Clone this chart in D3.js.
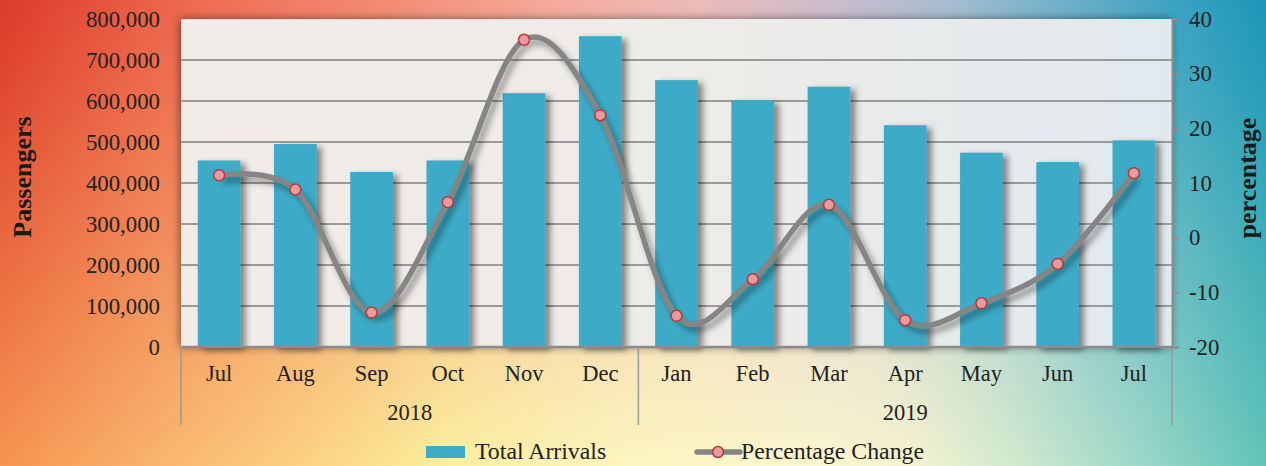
<!DOCTYPE html>
<html>
<head>
<meta charset="utf-8">
<script src="https://cdn.jsdelivr.net/npm/d3@7"></script>
<style>
  html, body { margin: 0; padding: 0; }
  svg { display: block; font-family: "Liberation Serif", "Times New Roman", serif; }
</style>
</head>
<body>
<svg id="chart" width="1266" height="466"></svg>
<script>
var months   = ["Jul", "Aug", "Sep", "Oct", "Nov", "Dec", "Jan", "Feb", "Mar", "Apr", "May", "Jun", "Jul"];
var years    = [{ label: "2018", count: 6 }, { label: "2019", count: 7 }];
var arrivals = [455000, 495000, 427000, 455000, 619000, 758000, 651000, 602000, 635000, 541000, 474000, 451000, 504000];
var pctChange = [11.4, 8.8, -13.7, 6.5, 36.2, 22.4, -14.3, -7.6, 6.0, -15.1, -12.0, -4.8, 11.8];
var leftTicks  = [0, 100000, 200000, 300000, 400000, 500000, 600000, 700000, 800000];
var rightTicks = [-20, -10, 0, 10, 20, 30, 40];

var svg = d3.select("#chart");
var W = 1266, H = 466;
var plot = { left: 181, right: 1172, top: 19, bottom: 347 };

var defs = svg.append("defs");

// background: top row colours fading into bottom row colours
var topStops = [[0, "#dc3a2a"], [0.15, "#ee6a50"], [0.3, "#f38a72"], [0.45, "#f4aca0"], [0.55, "#ecbab8"],
                [0.65, "#cdbccb"], [0.75, "#a6bccf"], [0.85, "#68aec8"], [0.93, "#3aa2c2"], [1, "#1c96b8"]];
var botStops = [[0, "#f79452"], [0.12, "#f9b46c"], [0.25, "#fcd584"], [0.35, "#fbef9e"], [0.5, "#fcf6c0"],
                [0.65, "#fbf6d0"], [0.72, "#f4f3d0"], [0.8, "#d2ead0"], [0.9, "#9ed8c8"], [1, "#62c4b8"]];

function hGradient(id, stops){
	var g = defs.append("linearGradient").attr("id", id)
		.attr("x1", "0").attr("y1", "0").attr("x2", "1").attr("y2", "0");
	stops.forEach(function(s){
		g.append("stop").attr("offset", s[0]).attr("stop-color", s[1]);
	});
}
hGradient("bgTop", topStops);
hGradient("bgBot", botStops);
hGradient("plotBg", [[0, "#f1ece8"], [0.5, "#eeece8"], [1, "#e1e9ee"]]);

var fade = defs.append("linearGradient").attr("id", "fade")
	.attr("x1", "0").attr("y1", "0").attr("x2", "0").attr("y2", "1");
fade.append("stop").attr("offset", 0).attr("stop-color", "white");
fade.append("stop").attr("offset", 0.15).attr("stop-color", "#e0e0e0");
fade.append("stop").attr("offset", 1).attr("stop-color", "black");
defs.append("mask").attr("id", "fadeMask")
	.append("rect").attr("width", W).attr("height", H).attr("fill", "url(#fade)");

function shadow(id, dx, dy, sd, op){
	defs.append("filter").attr("id", id)
		.attr("x", "-20%").attr("y", "-20%").attr("width", "140%").attr("height", "140%")
		.append("feDropShadow")
		.attr("dx", dx).attr("dy", dy).attr("stdDeviation", sd)
		.attr("flood-color", "#000").attr("flood-opacity", op);
}
shadow("plotShadow", -1, 0, 5, 0.5);
shadow("barShadow", 5, 3, 3, 0.45);
shadow("lineShadow", 4, 5, 3, 0.4);

svg.append("rect").attr("width", W).attr("height", H).attr("fill", "url(#bgBot)");
svg.append("rect").attr("width", W).attr("height", H).attr("fill", "url(#bgTop)").attr("mask", "url(#fadeMask)");

// scales
var x = d3.scaleBand()
	.domain(d3.range(months.length))
	.range([plot.left, plot.right])
	.paddingInner(0.44)
	.paddingOuter(0.22);
var yLeft = d3.scaleLinear().domain([0, 800000]).range([plot.bottom, plot.top]);
var yRight = d3.scaleLinear().domain([-20, 40]).range([plot.bottom, plot.top]);

// plot area
svg.append("rect")
	.attr("x", plot.left).attr("y", plot.top)
	.attr("width", plot.right - plot.left).attr("height", plot.bottom - plot.top)
	.attr("fill", "url(#plotBg)")
	.attr("filter", "url(#plotShadow)");

// gridlines
svg.append("g")
	.selectAll("line")
	.data(leftTicks.filter(function(t){ return t > 0 && t < 800000; }))
	.enter()
		.append("line")
		.attr("x1", plot.left).attr("x2", plot.right)
		.attr("y1", function(d){ return yLeft(d); })
		.attr("y2", function(d){ return yLeft(d); })
		.attr("stroke", "#7f7f7f")
		.attr("stroke-width", 1.6);

// bars
svg.append("g")
	.attr("filter", "url(#barShadow)")
	.selectAll("rect")
	.data(arrivals)
	.enter()
		.append("rect")
		.attr("x", function(d, i){ return x(i); })
		.attr("y", function(d){ return yLeft(d); })
		.attr("width", x.bandwidth())
		.attr("height", function(d){ return yLeft(0) - yLeft(d); })
		.attr("fill", "#3eabc7");

// x axis line and category separators
svg.append("line")
	.attr("x1", plot.left).attr("x2", plot.right)
	.attr("y1", plot.bottom).attr("y2", plot.bottom)
	.attr("stroke", "#8c8c8c").attr("stroke-width", 2.5);

var sepIdx = [0];
years.forEach(function(yr, i){ sepIdx.push(sepIdx[i] + yr.count); });
svg.append("g")
	.selectAll("line")
	.data(sepIdx)
	.enter()
		.append("line")
		.attr("x1", function(d){ return plot.left + d * x.step(); })
		.attr("x2", function(d){ return plot.left + d * x.step(); })
		.attr("y1", plot.bottom).attr("y2", 425)
		.attr("stroke", "#9a9a9a").attr("stroke-width", 1.5);

svg.append("g")
	.selectAll("text")
	.data(months)
	.enter()
		.append("text")
		.attr("x", function(d, i){ return x(i) + x.bandwidth() / 2; })
		.attr("y", 381)
		.attr("text-anchor", "middle")
		.attr("font-size", 22.5)
		.attr("fill", "#222")
		.text(function(d){ return d; });

svg.append("g")
	.selectAll("text")
	.data(years)
	.enter()
		.append("text")
		.attr("x", function(d, i){ return plot.left + (sepIdx[i] + d.count / 2) * x.step(); })
		.attr("y", 420)
		.attr("text-anchor", "middle")
		.attr("font-size", 22.5)
		.attr("fill", "#222")
		.text(function(d){ return d.label; });

// left axis
var gl = svg.append("g")
	.attr("transform", "translate(" + plot.left + ",0)")
	.call(d3.axisLeft(yLeft).tickValues(leftTicks).tickFormat(d3.format(",")).tickSize(0).tickPadding(21));
gl.select(".domain").remove();
gl.selectAll("text").attr("font-size", 22.8).attr("font-family", "Liberation Serif").attr("fill", "#222");

// right axis (plain hyphen for negatives, as in the source)
var gr = svg.append("g")
	.attr("transform", "translate(" + plot.right + ",0)")
	.call(d3.axisRight(yRight).tickValues(rightTicks)
		.tickFormat(function(d){ return String(d); })
		.tickSize(7).tickPadding(10));
gr.select(".domain").attr("stroke", "#8c8c8c").attr("stroke-width", 2);
gr.selectAll(".tick line").attr("stroke", "#8c8c8c").attr("stroke-width", 1.6);
gr.selectAll("text").attr("font-size", 22.8).attr("font-family", "Liberation Serif").attr("fill", "#222");

// axis titles
svg.append("text")
	.attr("transform", "translate(31,177) rotate(-90)")
	.attr("text-anchor", "middle")
	.attr("font-size", 26).attr("font-weight", "bold").attr("fill", "#1a1a1a")
	.text("Passengers");
svg.append("text")
	.attr("transform", "translate(1256,178) rotate(-90)")
	.attr("text-anchor", "middle")
	.attr("font-size", 26).attr("font-weight", "bold").attr("fill", "#1a1a1a")
	.text("percentage");

// percentage change line
var line = d3.line()
	.x(function(d, i){ return x(i) + x.bandwidth() / 2; })
	.y(function(d){ return yRight(d); })
	.curve(d3.curveCatmullRom.alpha(0));

svg.append("path")
	.datum(pctChange)
	.attr("d", line)
	.attr("fill", "none")
	.attr("stroke", "#858585")
	.attr("stroke-width", 5.5)
	.attr("filter", "url(#lineShadow)");

svg.append("g")
	.selectAll("circle")
	.data(pctChange)
	.enter()
		.append("circle")
		.attr("cx", function(d, i){ return x(i) + x.bandwidth() / 2; })
		.attr("cy", function(d){ return yRight(d); })
		.attr("r", 5.5)
		.attr("fill", "#e89a9c")
		.attr("stroke", "#b3393d")
		.attr("stroke-width", 1.5);

// legend
var lg = svg.append("g");
lg.append("rect").attr("x", 426).attr("y", 446).attr("width", 39).attr("height", 12).attr("fill", "#3eabc7");
lg.append("text").attr("x", 475).attr("y", 459).attr("font-size", 23.8).attr("fill", "#222").text("Total Arrivals");
lg.append("line").attr("x1", 697).attr("x2", 740).attr("y1", 452).attr("y2", 452)
	.attr("stroke", "#858585").attr("stroke-width", 5.5).attr("stroke-linecap", "round");
lg.append("circle").attr("cx", 718).attr("cy", 452).attr("r", 5.5)
	.attr("fill", "#e89a9c").attr("stroke", "#b3393d").attr("stroke-width", 1.5);
lg.append("text").attr("x", 741).attr("y", 459).attr("font-size", 23.8).attr("fill", "#222").text("Percentage Change");
</script>
</body>
</html>
